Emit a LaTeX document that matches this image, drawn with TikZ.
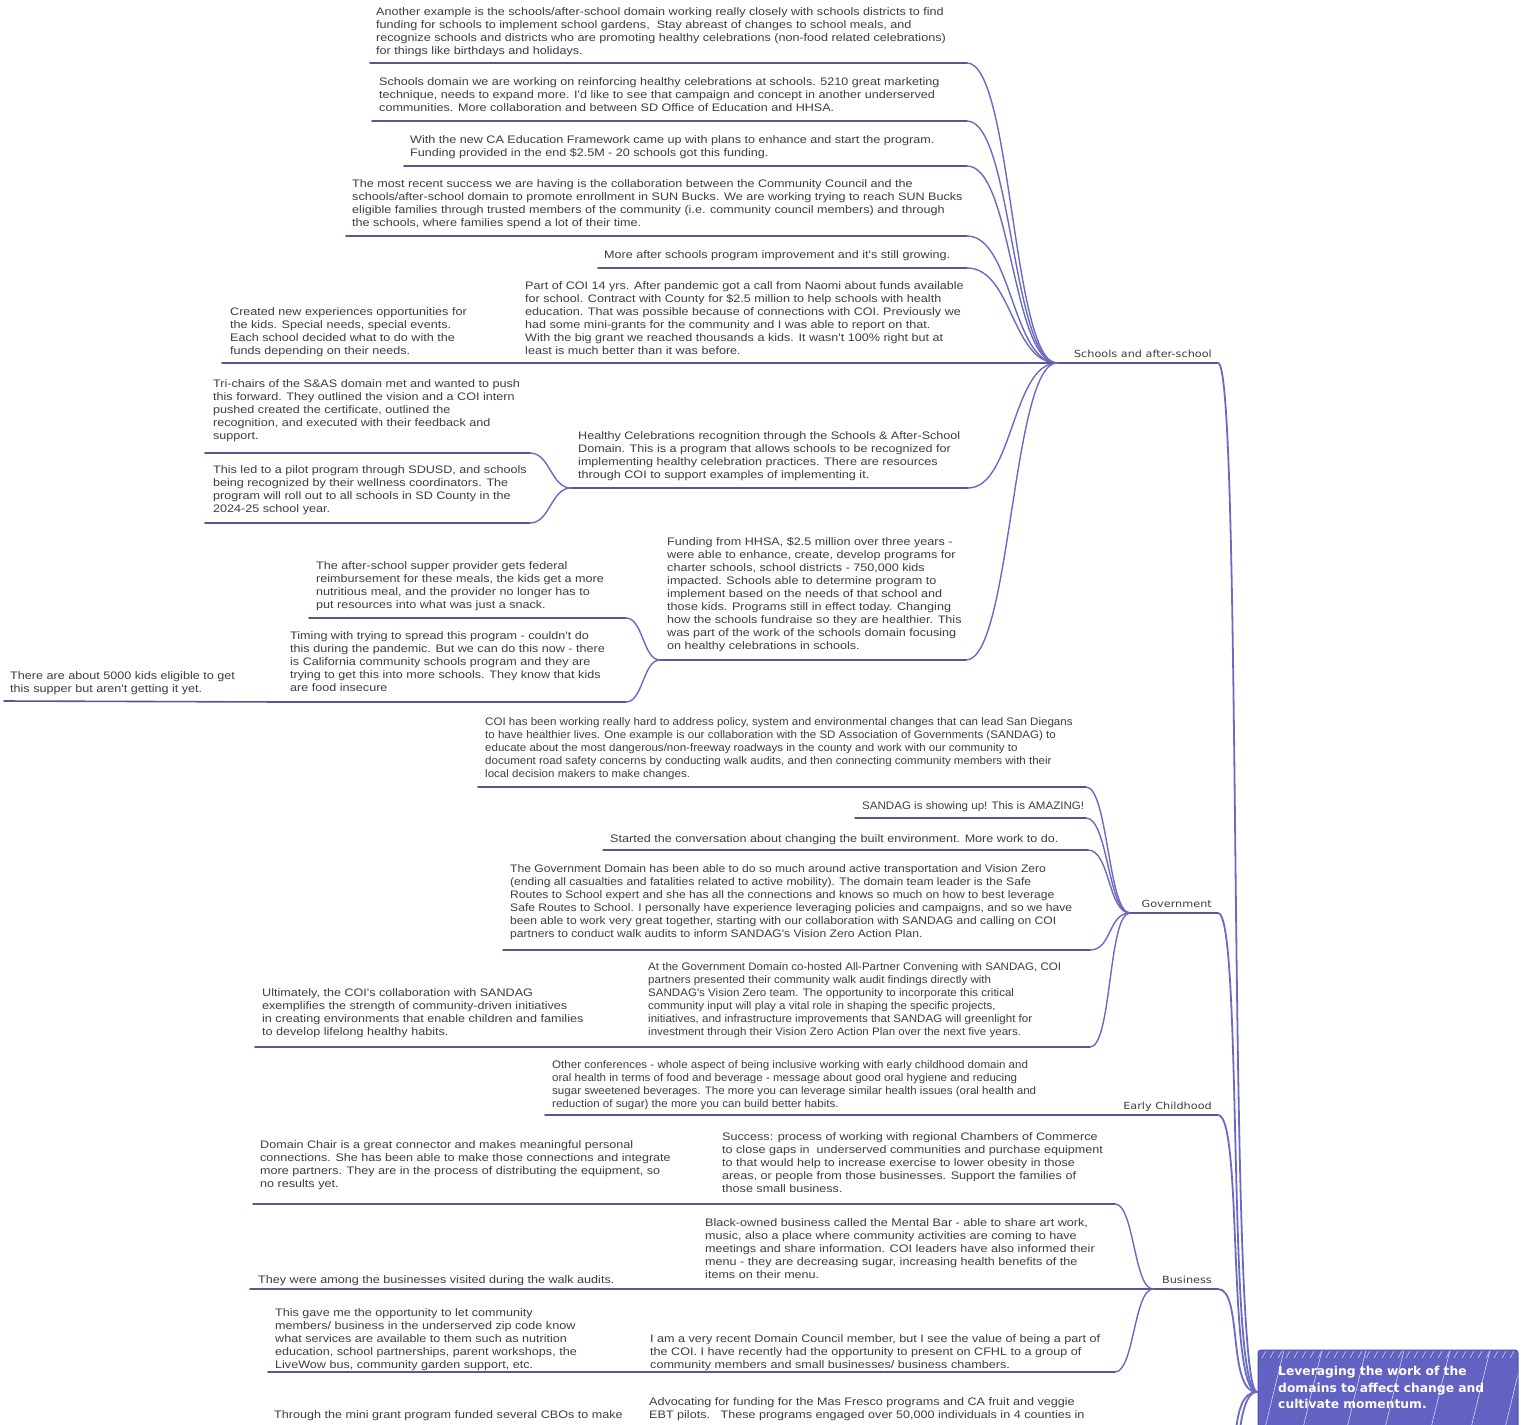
\documentclass[tikz,border=0pt]{standalone}
\usepackage{fontspec}
\setmainfont{Liberation Sans}
\newfontfamily\leaffam[FakeStretch=1.155]{Liberation Sans}
\newfontfamily\leafmidfam[FakeStretch=1.11]{Liberation Sans}
\newfontfamily\leafnarrowfam[FakeStretch=1.06]{Liberation Sans}
\newfontfamily\branchfam[FakeStretch=1.15]{DejaVu Sans}
\newfontfamily\rootfam{DejaVu Sans}
\newcommand\leaffont{\leaffam\fontsize{10.9}{13}\selectfont}
\newcommand\leafmidfont{\leafmidfam\fontsize{10.9}{13}\selectfont}
\newcommand\leafnarrowfont{\leafnarrowfam\fontsize{10.9}{13}\selectfont}
\newcommand\branchfont{\branchfam\fontsize{9.8}{11}\selectfont}
\newcommand\rootfont{\rootfam\bfseries\fontsize{12.3}{16.5}\selectfont}
\definecolor{concol}{HTML}{6A6AC4}
\definecolor{ulcol}{HTML}{58588F}
\definecolor{txtcol}{HTML}{3E3E3E}
\definecolor{rootfill}{HTML}{6262C2}
\definecolor{rootedge}{HTML}{4E4EAE}
\tikzset{
  leaf/.style={anchor=north west, inner sep=0pt, align=left, font=\leaffont, text=txtcol},
  leafmid/.style={leaf, font=\leafmidfont},
  leafnarrow/.style={leaf, font=\leafnarrowfont},
  branchlbl/.style={anchor=base east, inner sep=0pt, font=\branchfont, text=txtcol},
  ul/.style={draw=ulcol, line width=1.6pt, line cap=round},
  conn/.style={draw=concol, line width=1.4pt, line cap=round},
  rootconn/.style={draw=concol, line width=1.8pt, line cap=round},
}
\begin{document}
\begin{tikzpicture}[x=1pt,y=-1pt]
\useasboundingbox (0,0) rectangle (1522,1424);
\fill[white] (0,0) rectangle (1522,1424);

% ---------------- Root ----------------
\coordinate (rootL) at (1257,1392);
\begin{scope}
\clip[rounded corners=3pt] (1258,1350) rectangle (1518,1440);
\fill[rootfill] (1258,1350) rectangle (1518,1440);
\foreach \x in {1262,1300,1344,1382,1428,1468,1502}
  \draw[white, line width=0.5pt, opacity=0.85] (\x,1440) -- (\x+22,1350);
\foreach \x in {1262,1270,...,1510}
  \draw[white, line width=0.6pt, opacity=0.7] (\x,1358) -- (\x+4,1351);
\end{scope}
\draw[rootedge, line width=1pt, rounded corners=3pt] (1258,1440) -- (1258,1350) -- (1518,1350) -- (1518,1440);
\node[anchor=north west, inner sep=0pt, align=left, font=\rootfont, text=white] (root) at (1278,1366)
  {Leveraging the work of the\\domains to affect change and\\cultivate momentum.};

% ---------------- Branch: Schools ----------------
\coordinate (schL) at (1057,363);
\coordinate (schR) at (1218,363);
\node[branchlbl] (sch) at (1212,357) {Schools and after-school};
\draw[ul] (schL) -- (schR);
\draw[rootconn] (schR) .. controls +(25,0) and +(-30,0) .. (rootL);

\node[leaf] (n1) at (376,7) {Another example is the schools/after-school domain working really closely with schools districts to find\\funding for schools to implement school gardens,\ \ Stay abreast of changes to school meals, and\\recognize schools and districts who are promoting healthy celebrations (non-food related celebrations)\\for things like birthdays and holidays.};
\coordinate (n1L) at (370,63); \coordinate (n1R) at (967,63);
\draw[ul] (n1L) -- (n1R);
\draw[conn] (n1R) .. controls +(45,0) and +(-45,0) .. (schL);

\node[leaf] (n2) at (379,77) {Schools domain we are working on reinforcing healthy celebrations at schools. 5210 great marketing\\technique, needs to expand more. I'd like to see that campaign and concept in another underserved\\communities. More collaboration and between SD Office of Education and HHSA.};
\coordinate (n2L) at (372,121); \coordinate (n2R) at (967,121);
\draw[ul] (n2L) -- (n2R);
\draw[conn] (n2R) .. controls +(45,0) and +(-45,0) .. (schL);

\node[leaf] (n3) at (410,135) {With the new CA Education Framework came up with plans to enhance and start the program.\\Funding provided in the end \$2.5M - 20 schools got this funding.};
\coordinate (n3L) at (404,166); \coordinate (n3R) at (967,166);
\draw[ul] (n3L) -- (n3R);
\draw[conn] (n3R) .. controls +(45,0) and +(-45,0) .. (schL);

\node[leaf] (n4) at (352,179) {The most recent success we are having is the collaboration between the Community Council and the\\schools/after-school domain to promote enrollment in SUN Bucks. We are working trying to reach SUN Bucks\\eligible families through trusted members of the community (i.e. community council members) and through\\the schools, where families spend a lot of their time.};
\coordinate (n4L) at (346,236); \coordinate (n4R) at (967,236);
\draw[ul] (n4L) -- (n4R);
\draw[conn] (n4R) .. controls +(45,0) and +(-45,0) .. (schL);

\node[leaf] (n5) at (604,250) {More after schools program improvement and it's still growing.};
\coordinate (n5L) at (598,268); \coordinate (n5R) at (967,268);
\draw[ul] (n5L) -- (n5R);
\draw[conn] (n5R) .. controls +(45,0) and +(-45,0) .. (schL);

\node[leaf] (n6) at (525,281) {Part of COI 14 yrs. After pandemic got a call from Naomi about funds available\\for school. Contract with County for \$2.5 million to help schools with health\\education. That was possible because of connections with COI. Previously we\\had some mini-grants for the community and I was able to report on that.\\With the big grant we reached thousands a kids. It wasn't 100\% right but at\\least is much better than it was before.};
\coordinate (n6L) at (519,363);
\draw[ul] (n6L) -- (schL);

\node[leaf] (n6a) at (230,307) {Created new experiences opportunities for\\the kids. Special needs, special events.\\Each school decided what to do with the\\funds depending on their needs.};
\coordinate (n6aL) at (222,363);
\draw[ul] (n6aL) -- (n6L);

\node[leaf] (n7) at (578,431) {Healthy Celebrations recognition through the Schools \& After-School\\Domain. This is a program that allows schools to be recognized for\\implementing healthy celebration practices. There are resources\\through COI to support examples of implementing it.};
\coordinate (n7L) at (571,488); \coordinate (n7R) at (968,488);
\draw[ul] (n7L) -- (n7R);
\draw[conn] (n7R) .. controls +(45,0) and +(-45,0) .. (schL);

\node[leaf] (n7a) at (213,379) {Tri-chairs of the S\&AS domain met and wanted to push\\this forward. They outlined the vision and a COI intern\\pushed created the certificate, outlined the\\recognition, and executed with their feedback and\\support.};
\coordinate (n7aL) at (205,453); \coordinate (n7aR) at (530,453);
\draw[ul] (n7aL) -- (n7aR);
\draw[conn] (n7aR) .. controls +(20,0) and +(-20,0) .. (n7L);

\node[leaf] (n7b) at (213,465) {This led to a pilot program through SDUSD, and schools\\being recognized by their wellness coordinators. The\\program will roll out to all schools in SD County in the\\2024-25 school year.};
\coordinate (n7bL) at (205,523); \coordinate (n7bR) at (530,523);
\draw[ul] (n7bL) -- (n7bR);
\draw[conn] (n7bR) .. controls +(20,0) and +(-20,0) .. (n7L);

\node[leaf] (n8) at (667,537) {Funding from HHSA, \$2.5 million over three years -\\were able to enhance, create, develop programs for\\charter schools, school districts - 750,000 kids\\impacted. Schools able to determine program to\\implement based on the needs of that school and\\those kids. Programs still in effect today. Changing\\how the schools fundraise so they are healthier. This\\was part of the work of the schools domain focusing\\on healthy celebrations in schools.};
\coordinate (n8L) at (660,660); \coordinate (n8R) at (966,660);
\draw[ul] (n8L) -- (n8R);
\draw[conn] (n8R) .. controls +(45,0) and +(-45,0) .. (schL);

\node[leaf] (n8a) at (316,561) {The after-school supper provider gets federal\\reimbursement for these meals, the kids get a more\\nutritious meal, and the provider no longer has to\\put resources into what was just a snack.};
\coordinate (n8aL) at (309,618); \coordinate (n8aR) at (626,618);
\draw[ul] (n8aL) -- (n8aR);
\draw[conn] (n8aR) .. controls +(17,0) and +(-17,0) .. (n8L);

\node[leaf] (n8b) at (290,631) {Timing with trying to spread this program - couldn't do\\this during the pandemic. But we can do this now - there\\is California community schools program and they are\\trying to get this into more schools. They know that kids\\are food insecure};
\coordinate (n8bL) at (284,702); \coordinate (n8bR) at (626,702);
\draw[ul] (n8bL) -- (n8bR);
\draw[conn] (n8bR) .. controls +(17,0) and +(-17,0) .. (n8L);

\node[leaf] (n8c) at (10,671) {There are about 5000 kids eligible to get\\this supper but aren't getting it yet.};
\coordinate (n8cL) at (4,701);
\draw[ul] (n8cL) -- (n8bL);

% ---------------- Branch: Government ----------------
\coordinate (govL) at (1130,913);
\coordinate (govR) at (1218,913);
\node[branchlbl] (gov) at (1212,907) {Government};
\draw[ul] (govL) -- (govR);
\draw[rootconn] (govR) .. controls +(25,0) and +(-30,0) .. (rootL);

\node[leafnarrow] (g1) at (485,717) {COI has been working really hard to address policy, system and environmental changes that can lead San Diegans\\to have healthier lives. One example is our collaboration with the SD Association of Governments (SANDAG) to\\educate about the most dangerous/non-freeway roadways in the county and work with our community to\\document road safety concerns by conducting walk audits, and then connecting community members with their\\local decision makers to make changes.};
\coordinate (g1L) at (478,787); \coordinate (g1R) at (1086,787);
\draw[ul] (g1L) -- (g1R);
\draw[conn] (g1R) .. controls +(22,0) and +(-22,0) .. (govL);

\node[leafnarrow] (g2) at (862,801) {SANDAG is showing up! This is AMAZING!};
\coordinate (g2L) at (855,818); \coordinate (g2R) at (1086,818);
\draw[ul] (g2L) -- (g2R);
\draw[conn] (g2R) .. controls +(22,0) and +(-22,0) .. (govL);

\node[leaf] (g3) at (610,834) {Started the conversation about changing the built environment. More work to do.};
\coordinate (g3L) at (603,850); \coordinate (g3R) at (1088,850);
\draw[ul] (g3L) -- (g3R);
\draw[conn] (g3R) .. controls +(22,0) and +(-22,0) .. (govL);

\node[leafmid] (g4) at (510,864) {The Government Domain has been able to do so much around active transportation and Vision Zero\\(ending all casualties and fatalities related to active mobility). The domain team leader is the Safe\\Routes to School expert and she has all the connections and knows so much on how to best leverage\\Safe Routes to School. I personally have experience leveraging policies and campaigns, and so we have\\been able to work very great together, starting with our collaboration with SANDAG and calling on COI\\partners to conduct walk audits to inform SANDAG's Vision Zero Action Plan.};
\coordinate (g4L) at (503,950); \coordinate (g4R) at (1090,950);
\draw[ul] (g4L) -- (g4R);
\draw[conn] (g4R) .. controls +(22,0) and +(-22,0) .. (govL);

\node[leafnarrow] (g5) at (648,962) {At the Government Domain co-hosted All-Partner Convening with SANDAG, COI\\partners presented their community walk audit findings directly with\\SANDAG's Vision Zero team. The opportunity to incorporate this critical\\community input will play a vital role in shaping the specific projects,\\initiatives, and infrastructure improvements that SANDAG will greenlight for\\investment through their Vision Zero Action Plan over the next five years.};
\coordinate (g5L) at (641,1047); \coordinate (g5R) at (1090,1047);
\draw[ul] (g5L) -- (g5R);
\draw[conn] (g5R) .. controls +(22,0) and +(-22,0) .. (govL);

\node[leaf] (g5a) at (262,988) {Ultimately, the COI's collaboration with SANDAG\\exemplifies the strength of community-driven initiatives\\in creating environments that enable children and families\\to develop lifelong healthy habits.};
\coordinate (g5aL) at (255,1047);
\draw[ul] (g5aL) -- (g5L);

% ---------------- Branch: Early Childhood ----------------
\coordinate (ecL) at (1120,1115);
\coordinate (ecR) at (1218,1115);
\node[branchlbl] (ec) at (1212,1109) {Early Childhood};
\draw[ul] (ecL) -- (ecR);
\draw[rootconn] (ecR) .. controls +(25,0) and +(-30,0) .. (rootL);

\node[leafnarrow] (e1) at (552,1060) {Other conferences - whole aspect of being inclusive working with early childhood domain and\\oral health in terms of food and beverage - message about good oral hygiene and reducing\\sugar sweetened beverages. The more you can leverage similar health issues (oral health and\\reduction of sugar) the more you can build better habits.};
\coordinate (e1L) at (545,1115);
\draw[ul] (e1L) -- (ecL);

% ---------------- Branch: Business ----------------
\coordinate (bzL) at (1153,1289);
\coordinate (bzR) at (1218,1289);
\node[branchlbl] (bz) at (1212,1283) {Business};
\draw[ul] (bzL) -- (bzR);
\draw[rootconn] (bzR) .. controls +(25,0) and +(-30,0) .. (rootL);

\node[leaf] (b1) at (722,1132) {Success: process of working with regional Chambers of Commerce\\to close gaps in\ \ underserved communities and purchase equipment\\to that would help to increase exercise to lower obesity in those\\areas, or people from those businesses. Support the families of\\those small business.};
\coordinate (b1L) at (715,1204); \coordinate (b1R) at (1115,1204);
\draw[ul] (b1L) -- (b1R);
\draw[conn] (b1R) .. controls +(19,0) and +(-19,0) .. (bzL);

\node[leaf] (b1a) at (260,1140) {Domain Chair is a great connector and makes meaningful personal\\connections. She has been able to make those connections and integrate\\more partners. They are in the process of distributing the equipment, so\\no results yet.};
\coordinate (b1aL) at (253,1204);
\draw[ul] (b1aL) -- (b1L);

\node[leaf] (b2) at (705,1218) {Black-owned business called the Mental Bar - able to share art work,\\music, also a place where community activities are coming to have\\meetings and share information. COI leaders have also informed their\\menu - they are decreasing sugar, increasing health benefits of the\\items on their menu.};
\coordinate (b2L) at (698,1289);
\draw[ul] (b2L) -- (bzL);

\node[leaf] (b2a) at (258,1275) {They were among the businesses visited during the walk audits.};
\coordinate (b2aL) at (250,1289);
\draw[ul] (b2aL) -- (b2L);

\node[leaf] (b3) at (650,1334) {I am a very recent Domain Council member, but I see the value of being a part of\\the COI. I have recently had the opportunity to present on CFHL to a group of\\community members and small businesses/ business chambers.};
\coordinate (b3L) at (643,1372); \coordinate (b3R) at (1115,1372);
\draw[ul] (b3L) -- (b3R);
\draw[conn] (b3R) .. controls +(19,0) and +(-19,0) .. (bzL);

\node[leaf] (b3a) at (275,1308) {This gave me the opportunity to let community\\members/ business in the underserved zip code know\\what services are available to them such as nutrition\\education, school partnerships, parent workshops, the\\LiveWow bus, community garden support, etc.};
\coordinate (b3aL) at (268,1372);
\draw[ul] (b3aL) -- (b3L);

% ---------------- cut-off branch below ----------------
\coordinate (offA) at (1218,1470);
\coordinate (offB) at (1218,1560);
\draw[rootconn] (offA) .. controls +(25,0) and +(-30,0) .. (rootL);
\draw[rootconn] (offB) .. controls +(25,0) and +(-30,0) .. (rootL);

\node[leaf] (b4) at (649,1397) {Advocating for funding for the Mas Fresco programs and CA fruit and veggie\\EBT pilots.\ \ \ These programs engaged over 50,000 individuals in 4 counties in};
\node[leaf] (b4a) at (274,1410) {Through the mini grant program funded several CBOs to make};
\end{tikzpicture}
\end{document}
